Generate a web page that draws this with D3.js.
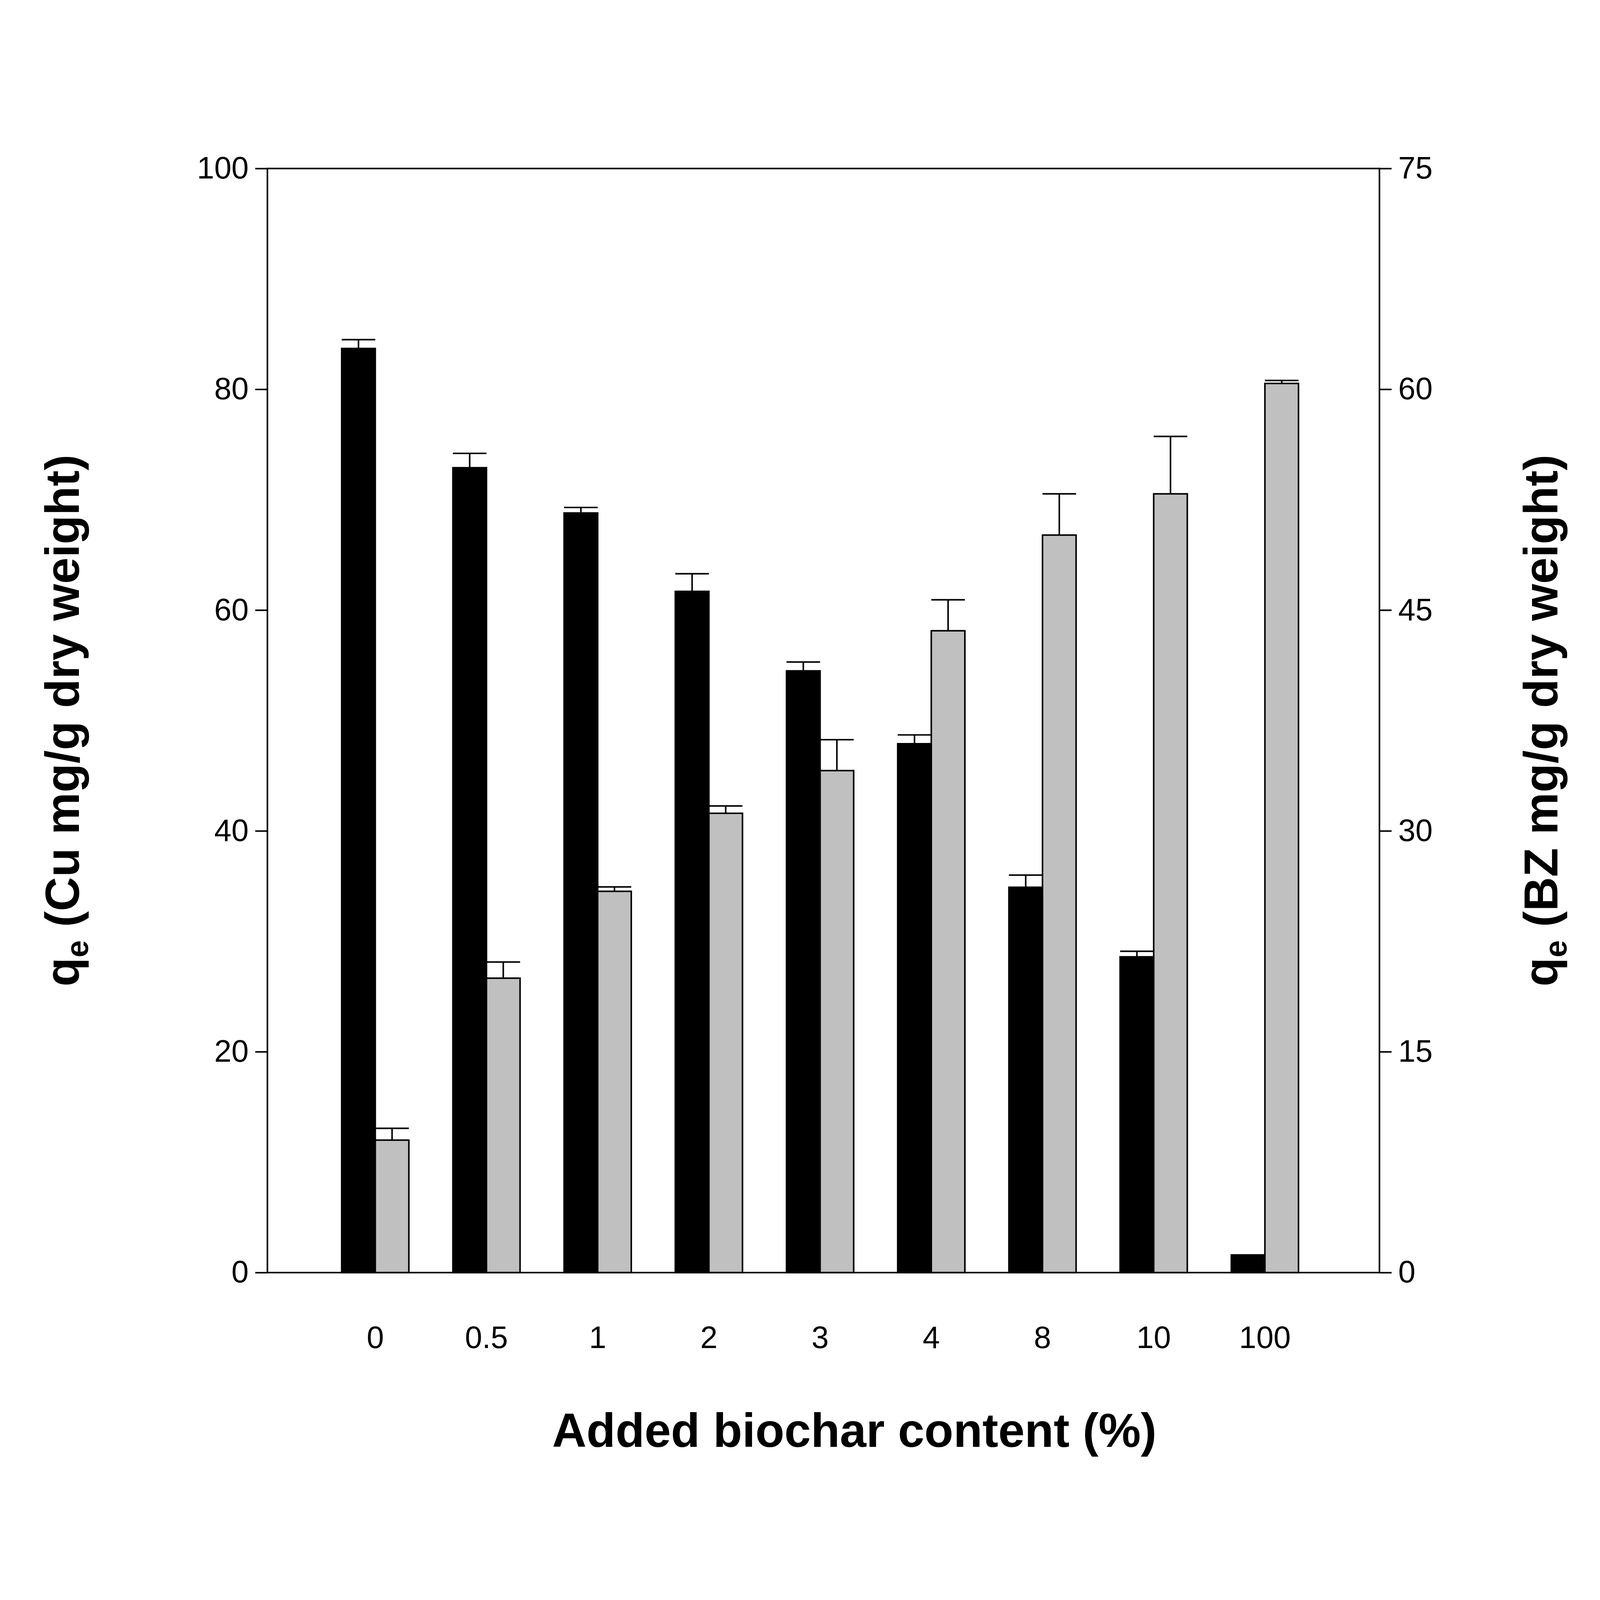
<!DOCTYPE html>
<html lang="en">
  <head>
    <meta charset="UTF-8" />
    <title></title>
    <script src="https://d3js.org/d3.v7.min.js"></script>
    <style>html,body{margin:0;padding:0;background:#fff;overflow:hidden}svg{display:block;width:100vw;height:100vh}</style>
  </head>
  <body>
    <svg viewBox="0 0 7240 6121" preserveAspectRatio="xMidYMid meet"></svg>
    <script>
      const categories = ['0', '0.5', '1', '2', '3', '4', '8', '10', '100']
      const cuValues = [83.7, 72.9, 68.8, 61.7, 54.5, 47.9, 34.9, 28.6, 1.6]
      const cuErrors = [0.8, 1.3, 0.5, 1.6, 0.8, 0.8, 1.1, 0.5, 0]
      const bzValues = [9.0, 20.0, 25.9, 31.2, 34.1, 43.6, 50.1, 52.9, 60.4]
      const bzErrors = [0.8, 1.1, 0.3, 0.5, 2.1, 2.1, 2.8, 3.9, 0.2]
      const leftTicks = [0, 20, 40, 60, 80, 100]
      const rightTicks = [0, 15, 30, 45, 60, 75]

      const svg = d3.select('svg')
      const L = 1210, R = 6242, T = 203, B = 5199
      const font = 'Liberation Sans, Arial, sans-serif'

      const x = d3.scaleBand().domain(categories).range([L, R]).paddingOuter(0.5).align(0.47)
      const yL = d3.scaleLinear().domain([0, 100]).range([B, T])
      const yR = d3.scaleLinear().domain([0, 75]).range([B, T])
      const bw = 152

      const g = svg.append('g')
      const series = [
        { vals: cuValues, errs: cuErrors, y: yL, fill: '#000', off: -bw },
        { vals: bzValues, errs: bzErrors, y: yR, fill: '#c0c0c0', off: 0 }
      ]
      series.forEach(s => {
        categories.forEach((c, i) => {
          const cx = x(c) + x.bandwidth() / 2 + s.off
          const top = s.y(s.vals[i])
          g.append('rect').attr('x', cx).attr('y', top).attr('width', bw)
            .attr('height', B - top).attr('fill', s.fill)
            .attr('stroke', '#000').attr('stroke-width', 7)
          if (s.errs[i] > 0) {
            const mid = cx + bw / 2
            const et = s.y(s.vals[i] + s.errs[i])
            g.append('line').attr('x1', mid).attr('x2', mid).attr('y1', top).attr('y2', et)
              .attr('stroke', '#000').attr('stroke-width', 7)
            g.append('line').attr('x1', mid - bw * 0.5).attr('x2', mid + bw * 0.5)
              .attr('y1', et).attr('y2', et).attr('stroke', '#000').attr('stroke-width', 7)
          }
        })
      })

      // frame
      svg.append('rect').attr('x', L).attr('y', T).attr('width', R - L).attr('height', B - T)
        .attr('fill', 'none').attr('stroke', '#000').attr('stroke-width', 7)

      const axL = svg.append('g').attr('transform', `translate(${L},0)`)
        .call(d3.axisLeft(yL).tickValues(leftTicks).tickSize(55).tickPadding(30))
      const axR = svg.append('g').attr('transform', `translate(${R},0)`)
        .call(d3.axisRight(yR).tickValues(rightTicks).tickSize(55).tickPadding(30))
      ;[axL, axR].forEach(a => {
        a.select('.domain').remove()
        a.selectAll('line').attr('stroke-width', 7)
        a.selectAll('text').attr('font-size', 140).attr('font-family', font)
      })

      svg.append('g').selectAll('text').data(categories).join('text')
        .attr('x', d => x(d) + x.bandwidth() / 2).attr('y', 5540)
        .attr('text-anchor', 'middle').attr('font-size', 140).attr('font-family', font)
        .text(d => d)

      svg.append('text').attr('x', (L + R) / 2 + 140).attr('y', 5988)
        .attr('text-anchor', 'middle').attr('font-size', 215).attr('font-weight', 'bold')
        .attr('font-family', font).text('Added biochar content (%)')

      function yTitle(cx, label) {
        const t = svg.append('text')
          .attr('transform', `translate(${cx},${(T + B) / 2}) rotate(-90)`)
          .attr('text-anchor', 'middle').attr('dominant-baseline', 'middle')
          .attr('font-size', 215).attr('font-weight', 'bold').attr('font-family', font)
        t.append('tspan').text('q')
        t.append('tspan').text('e').attr('font-size', 140).attr('dy', 60)
        t.append('tspan').text(' ' + label).attr('dy', -60)
      }
      yTitle(300, '(Cu mg/g dry weight)')
      yTitle(6990, '(BZ mg/g dry weight)')
    </script>
  </body>
</html>
